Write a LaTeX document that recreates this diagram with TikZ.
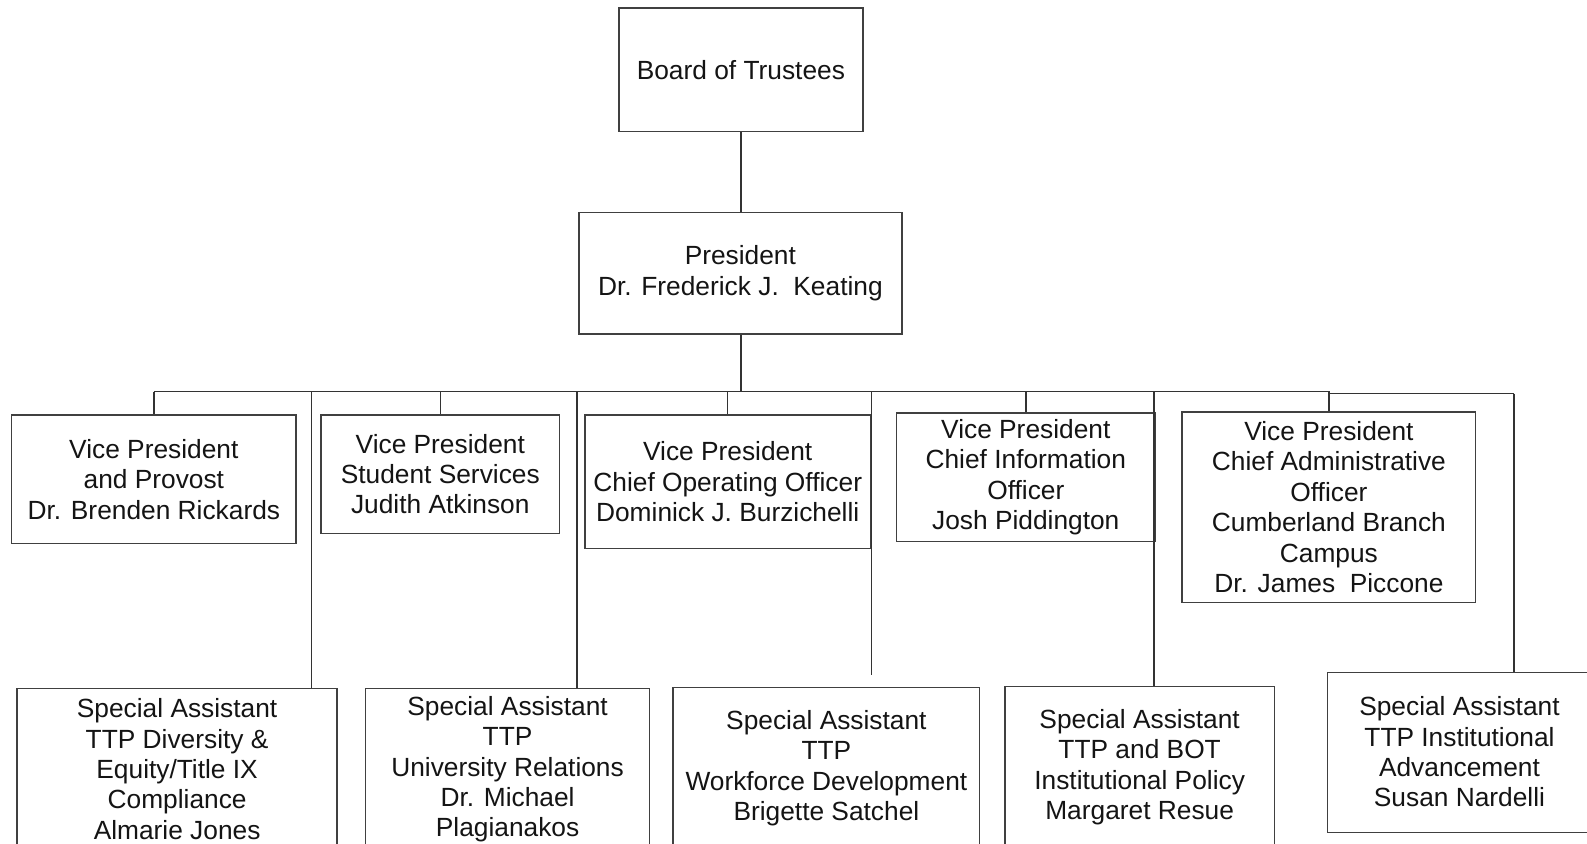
\documentclass[tikz,border=0pt]{standalone}
\usepackage{fontspec}
\setmainfont{Liberation Sans}
\begin{document}
\begin{tikzpicture}[x=0.5pt,y=-0.5pt,
  box/.style={draw=black!75,line width=0.7pt,rectangle,inner sep=0pt,align=center,text=black!92,
    font=\fontsize{13}{15}\selectfont},
  sz/.style 2 args={minimum width=#1*0.5pt,minimum height=#2*0.5pt},
  txt/.style={inner sep=0pt,align=center,text=black!92,font=\fontsize{13}{15}\selectfont},
  conn/.style={draw=black!80,line width=0.75pt}]
\clip (0,0) rectangle (1568,833);
\fill[white] (0,0) rectangle (1568,833);
% top
\node[box,sz={241}{122}] (board) at (732,69) {Board of Trustees};
\node[box,sz={319}{120}] (pres) at (731.5,270) {President\\Dr. Frederick J.\ \ Keating};
% vice presidents
\node[box,sz={281}{127}] (vp1) at (152,473.5) {Vice President\\and Provost\\Dr. Brenden Rickards};
\node[box,sz={236}{117}] (vp2) at (435,468.5) {Vice President\\Student Services\\Judith Atkinson};
\node[box,sz={282}{132}] (vp3) at (719,476) {Vice President\\Chief Operating Officer\\Dominick J.\ Burzichelli};
\node[box,sz={255}{127}] (vp4) at (1013.5,471.5) {Vice President\\Chief Information\\Officer\\Josh Piddington};
\node[box,sz={290}{188}] (vp5) at (1313,501) {Vice President\\Chief Administrative\\Officer\\Cumberland Branch\\Campus\\Dr. James\ \ Piccone};
% special assistants
\node[box,sz={316}{160}] (sa1) at (175,760) {Special Assistant\\TTP Diversity \&\\Equity/Title IX\\Compliance\\Almarie Jones};
\node[box,sz={281}{160}] (sa2) at (501.5,760) {Special Assistant\\TTP\\University Relations\\Dr. Michael\\Plagianakos};
\node[box,sz={303}{160}] (sa3) at (816.5,759) {Special Assistant\\TTP\\Workforce Development\\Brigette Satchel};
\node[box,sz={266}{160}] (sa4) at (1126,758) {Special Assistant\\TTP and BOT\\Institutional Policy\\Margaret Resue};
\node[box,sz={290}{158},anchor=north west] (sa5) at (1311,664) {};
\node[txt] (sa5t) at (1442,743) {Special Assistant\\TTP Institutional\\Advancement\\Susan Nardelli};
% bus coordinates
\coordinate (busL) at (152,387);
\coordinate (busM) at (1313,387);
\coordinate (busR) at (1496,389);
\coordinate (j1) at (308,387);
\coordinate (j2) at (570,387);
\coordinate (j3) at (861,387);
\coordinate (j3e) at (861,667);
\coordinate (j4) at (1140,387);
% connectors
\draw[conn] (board.south) -- (board.south |- pres.north);
\draw[conn] (board.south |- pres.south) -- (board.south |- busL);
\draw[conn] (busL) -- (busM) -- (busM |- busR) -- (busR);
\draw[conn] (vp1.north) -- (vp1.north |- busL);
\draw[conn] (vp2.north) -- (vp2.north |- busL);
\draw[conn] (vp3.north) -- (vp3.north |- busL);
\draw[conn] (vp4.north) -- (vp4.north |- busL);
\draw[conn] (vp5.north) -- (busM);
\draw[conn] (j1) -- (j1 |- sa1.north);
\draw[conn] (j2) -- (j2 |- sa2.north);
\draw[conn] (j3) -- (j3e);
\draw[conn] (j4) -- (j4 |- sa4.north);
\draw[conn] (busR) -- (busR |- sa5.north);
\end{tikzpicture}
\end{document}
